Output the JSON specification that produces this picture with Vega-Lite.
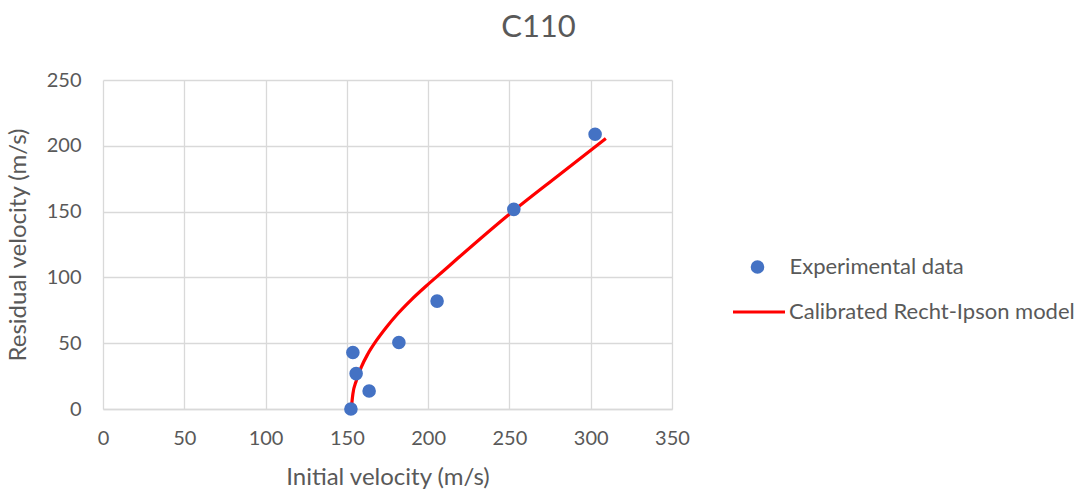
{
  "$schema": "https://vega.github.io/schema/vega-lite/v6.json",
  "autosize": "none",
  "width": 569,
  "height": 329,
  "padding": {"left": 103, "top": 80, "right": 411, "bottom": 84},
  "background": "white",
  "config": {
    "font": "Lato",
    "view": {"stroke": null},
    "axis": {
      "gridColor": "#D9D9D9",
      "gridWidth": 1.3,
      "domainColor": "#D9D9D9",
      "domainWidth": 1.3,
      "ticks": false,
      "labelFlush": false,
      "labelColor": "#595959",
      "labelFont": "Lato",
      "labelFontSize": 20,
      "titleColor": "#595959",
      "titleFont": "Lato",
      "titleFontSize": 24,
      "titleFontWeight": "normal"
    },
    "legend": {
      "labelColor": "#595959",
      "labelFont": "Lato",
      "labelFontSize": 22,
      "labelLimit": 500,
      "padding": 0
    }
  },
  "title": {
    "text": "C110",
    "font": "Lato",
    "fontSize": 31,
    "fontWeight": "normal",
    "color": "#595959",
    "anchor": "middle",
    "dx": 151,
    "offset": 26
  },
  "datasets": {
    "pts": [
      {"vi": 152.5, "vr": 0, "series": "Experimental data"},
      {"vi": 153.7, "vr": 42.9, "series": "Experimental data"},
      {"vi": 155.7, "vr": 26.9, "series": "Experimental data"},
      {"vi": 163.7, "vr": 13.7, "series": "Experimental data"},
      {"vi": 182.0, "vr": 50.5, "series": "Experimental data"},
      {"vi": 205.5, "vr": 82.0, "series": "Experimental data"},
      {"vi": 252.7, "vr": 151.7, "series": "Experimental data"},
      {"vi": 302.7, "vr": 208.8, "series": "Experimental data"}
    ],
    "curve": [
      {"vi": 152.7, "vr": 0, "model": "Calibrated Recht-Ipson model"},
      {"vi": 153.7, "vr": 11.4, "model": "Calibrated Recht-Ipson model"},
      {"vi": 155.8, "vr": 21.5, "model": "Calibrated Recht-Ipson model"},
      {"vi": 158.8, "vr": 31.6, "model": "Calibrated Recht-Ipson model"},
      {"vi": 162.9, "vr": 41.8, "model": "Calibrated Recht-Ipson model"},
      {"vi": 168.1, "vr": 51.9, "model": "Calibrated Recht-Ipson model"},
      {"vi": 174.2, "vr": 62.0, "model": "Calibrated Recht-Ipson model"},
      {"vi": 181.3, "vr": 72.4, "model": "Calibrated Recht-Ipson model"},
      {"vi": 189.6, "vr": 83.0, "model": "Calibrated Recht-Ipson model"},
      {"vi": 198.8, "vr": 93.5, "model": "Calibrated Recht-Ipson model"},
      {"vi": 209.0, "vr": 104.5, "model": "Calibrated Recht-Ipson model"},
      {"vi": 218.2, "vr": 114.5, "model": "Calibrated Recht-Ipson model"},
      {"vi": 249.9, "vr": 148.0, "model": "Calibrated Recht-Ipson model"},
      {"vi": 280.7, "vr": 178.0, "model": "Calibrated Recht-Ipson model"},
      {"vi": 309.3, "vr": 205.6, "model": "Calibrated Recht-Ipson model"}
    ]
  },
  "layer": [
    {
      "data": {"name": "curve"},
      "mark": {"type": "line", "strokeWidth": 3.2, "interpolate": "monotone"},
      "encoding": {
        "x": {
          "field": "vi", "type": "quantitative",
          "scale": {"domain": [0, 350], "nice": false},
          "axis": {"values": [0, 50, 100, 150, 200, 250, 300, 350], "title": "Initial velocity (m/s)", "labelPadding": 19, "titlePadding": 17}
        },
        "y": {
          "field": "vr", "type": "quantitative",
          "scale": {"domain": [0, 250], "nice": false},
          "axis": {"values": [0, 50, 100, 150, 200, 250], "title": "Residual velocity (m/s)", "labelPadding": 22, "titlePadding": 16, "domain": false}
        },
        "stroke": {
          "field": "model", "type": "nominal",
          "scale": {"range": ["#FF0000"]},
          "legend": {"title": null, "orient": "none", "legendX": 628, "legendY": 204, "symbolType": "stroke", "symbolSize": 2704, "symbolStrokeWidth": 3.2, "labelOffset": 2}
        }
      }
    },
    {
      "data": {"name": "pts"},
      "mark": {"type": "point", "filled": true, "size": 185, "opacity": 1},
      "encoding": {
        "x": {"field": "vi", "type": "quantitative"},
        "y": {"field": "vr", "type": "quantitative"},
        "fill": {
          "field": "series", "type": "nominal",
          "scale": {"range": ["#4472C4"]},
          "legend": {"title": null, "orient": "none", "legendX": 643.5, "legendY": 176, "symbolType": "circle", "symbolSize": 185, "symbolOpacity": 1, "labelOffset": 21}
        }
      }
    }
  ]
}
